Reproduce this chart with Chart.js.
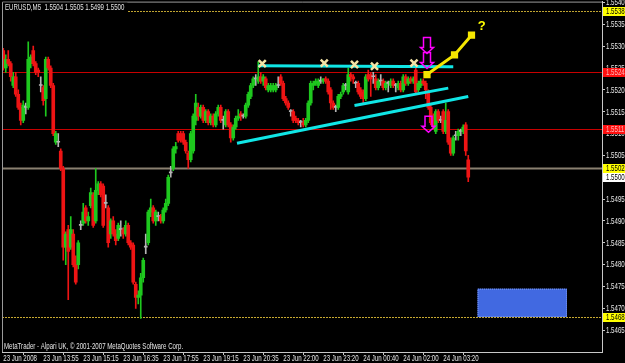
<!DOCTYPE html>
<html>
<head>
<meta charset="utf-8">
<script src="https://cdn.jsdelivr.net/npm/chart.js@4.4.1/dist/chart.umd.min.js"></script>
<style>
  html, body { margin: 0; padding: 0; background: #000; }
  canvas { display: block; }
</style>
</head>
<body>
<canvas id="chart" width="625" height="363"></canvas>
<script>
// EURUSD M5 bars, values in pips above 1.5400
const BASE = 1.54;
const PIP = 0.0001;

const opens = [
  129, 125, 127, 126, 121, 123, 119, 116, 113, 116,
  116, 126, 129, 126, 124.5, 121, 120.5, 118, 127, 125,
  121, 108, 108, 106, 102, 84, 88, 84, 87, 80,
  80, 89, 89.5, 93, 90, 93.5, 96, 90, 97, 98.5,
  98, 94, 93, 87, 90, 87, 86, 88, 88, 87,
  89, 85, 84.5, 75.5, 72.5, 73, 77, 84, 85, 92,
  93, 90, 91, 91, 90, 92.5, 94, 101, 102, 106.5,
  110, 110, 110, 108, 105.5, 104, 106, 113, 116, 114,
  116, 113, 115, 112.5, 114, 112, 114.5, 116, 113, 112,
  115, 112, 109, 111.5, 113.5, 114.5, 114, 114, 116.5, 118.5,
  121, 122.5, 122, 123, 122, 122.5, 120, 120, 120, 120,
  121, 123, 121.5, 118, 117, 115, 115, 113.5, 113, 112.5,
  112.5, 112, 113, 117, 121, 121.5, 121, 122, 122, 122.5,
  122, 120, 117, 116, 116, 118.5, 119.5, 121, 119.5, 123.5,
  123, 121.5, 121.5, 120, 119.5, 118, 123.5, 123.5, 123, 122.5,
  120.5, 122, 122, 120.5, 121.5, 121, 122, 121, 120.5, 121.5,
  120, 123, 121.5, 122.5, 122, 124.5, 120, 121, 122, 121.5,
  119.5, 116, 113, 110.5, 115, 113, 115, 110.5, 115, 108.5,
  105.5, 109.5, 109.5, 110.5, 110.5, 112, 104
];
const highs = [
  129.5, 128, 129, 126.5, 124, 124, 120, 117, 117.5, 117,
  131, 128, 130, 126.5, 125, 123, 121, 127.5, 127.5, 125.5,
  121.5, 110.5, 110, 106.5, 102.5, 87.5, 89, 91, 88, 82,
  85.5, 90, 94, 93.5, 92, 97.5, 96.5, 102, 99, 99,
  98.5, 96, 93.5, 90.5, 91, 88, 89.5, 90, 88.5, 90,
  89.5, 85.5, 85, 76, 74, 78, 81.5, 87, 92.5, 95,
  93.5, 92.5, 92, 91.5, 93, 95, 100.5, 102.5, 107, 108,
  110.5, 110.5, 110.5, 108.5, 106, 110.5, 114.5, 119, 117, 116.5,
  116.5, 115.5, 115.5, 114.5, 114.5, 115, 116.5, 116.5, 114, 115.5,
  115.5, 112.5, 112, 114, 115.5, 115, 114.5, 117, 119.5, 121.5,
  123, 123.5, 126.5, 124, 123.5, 123, 121.5, 121.5, 121.5, 121.5,
  123, 123.5, 122, 118.5, 117.5, 115.5, 115.5, 114, 113.5, 113,
  113.5, 113.5, 117.5, 122, 122, 122.5, 122.5, 123, 122.5, 123,
  122.5, 120.5, 117.5, 116.5, 119, 119.5, 121.5, 121.5, 125, 124,
  123.5, 122, 122, 120.5, 120, 123.5, 124.5, 124, 124, 123.5,
  122.5, 123.5, 122.5, 122, 122, 122.5, 122.5, 121.5, 122, 122,
  123.5, 123.5, 123, 123, 123, 125.5, 122, 122.5, 122.5, 122,
  120, 116.5, 114.5, 115.5, 115.5, 114, 115.5, 117, 115.5, 109,
  109.5, 110.5, 111, 111, 112, 112.5, 105
];
const lows = [
  124.5, 124, 125.5, 122, 120.5, 118.5, 115.5, 112, 112.5, 114.5,
  115.5, 125, 125.5, 123.5, 123, 119.5, 116.5, 114, 124.5, 120.5,
  109.5, 107.5, 107, 101.5, 81, 80, 72, 83.5, 79.5, 75.5,
  79, 88, 89, 89.5, 89, 93, 88.5, 89.5, 96, 95.5,
  88.5, 93, 84, 86, 86.5, 84.5, 85.5, 86.5, 86, 86.5,
  84.5, 83.5, 75.5, 70, 71, 67.7, 76, 82.5, 84.5, 91,
  89.5, 89, 90, 89.5, 89.5, 92, 93.5, 100, 101.5, 105.5,
  108, 108, 107.5, 105.5, 102, 103.5, 105.5, 112, 113, 113.5,
  112.5, 112.5, 112, 112, 111.5, 111.5, 114, 112.5, 111, 111.5,
  111.5, 108, 108.5, 111, 113, 113, 113.5, 113.5, 116, 118,
  120.5, 121, 121.5, 121.5, 121, 120, 119.5, 119.5, 119.5, 119.5,
  120.5, 121, 117.5, 116.5, 115.5, 114, 112.5, 112.5, 112, 111.5,
  111.5, 111.5, 112.5, 116.5, 120, 121, 120.5, 121.5, 121.5, 121.5,
  119, 115.5, 115.5, 115, 115.5, 118, 119, 120, 119, 122,
  121.5, 120.5, 119, 118, 117, 117.5, 122, 118.5, 121.5, 120,
  120, 121, 120, 120, 119.5, 120.5, 120.5, 119.5, 120, 119.5,
  119.5, 121, 121, 121.5, 121.5, 119, 119.5, 120.5, 121, 118,
  115.5, 112, 111, 110, 112.5, 112.5, 110, 110, 107.5, 105,
  105, 108.5, 108.5, 109.5, 110, 105, 99
];
const closes = [
  125, 127, 126, 123, 123, 119, 116, 113, 116.5, 116,
  127, 127.5, 126, 124, 124, 121, 117.5, 127, 125, 121,
  110, 110, 108, 102, 84, 87, 83, 88, 80, 76,
  85, 89, 92, 90, 91, 96.5, 89, 97, 98.5, 96,
  89, 94, 85, 90, 87, 85.5, 89, 88, 87, 89,
  85, 84, 76, 72.5, 73, 77, 81, 84, 92, 93,
  90, 92, 91, 90, 92.5, 94, 100, 101, 106.5, 107,
  108.5, 108.5, 108, 106, 104, 110, 114, 117, 114, 116,
  113, 115, 112.5, 114, 112, 114.5, 116, 113, 113, 115,
  112, 109, 111.5, 113.5, 114, 114, 114, 116.5, 119, 121,
  122.5, 122.5, 123, 122, 123, 120.5, 121, 121, 121, 121,
  121, 121.5, 118, 117, 116, 115, 113, 113, 112.5, 112.5,
  112, 113, 117, 121.5, 121.5, 122, 122, 122, 122.5, 122,
  119.5, 117, 116, 116, 118.5, 119, 121, 121, 123.5, 123,
  122.5, 121.5, 119.5, 118.5, 118, 123, 122.5, 122.5, 123, 120.5,
  122, 122, 120.5, 121.5, 121.5, 122, 121, 121, 121.5, 120,
  123, 121.5, 122.5, 122, 122.5, 119.5, 121.5, 122, 121.5, 120,
  116, 112.5, 111.5, 115, 113, 113, 110.5, 113, 108, 105.5,
  109, 109.5, 110.5, 110.5, 111.5, 106, 100
];

const SLOTS = 240; // bar slots across the window (incl. chart shift)
const timeTickIndex = [0, 16, 32, 48, 64, 80, 96, 112, 128, 144, 160, 176];
const timeTickLabels = [
  "23 Jun 2008", "23 Jun 13:55", "23 Jun 15:15", "23 Jun 16:35",
  "23 Jun 17:55", "23 Jun 19:15", "23 Jun 20:35", "23 Jun 22:00",
  "23 Jun 23:20", "24 Jun 00:40", "24 Jun 02:00", "24 Jun 03:20"
];
const priceTicks = [
  1.5465, 1.5470, 1.5475, 1.5480, 1.5485, 1.5490, 1.5495, 1.5500,
  1.5505, 1.5510, 1.5515, 1.5520, 1.5525, 1.5530, 1.5535, 1.5540
];

// horizontal levels
const levelPrices = [1.5538, 1.5524, 1.5511, 1.5502, 1.5468];
const levelLine = ["#c0a430", "#c80000", "#c80000", "#8a8070", "#c8aa30"];
const levelDash = [[2, 1], [], [], [], [2, 1]];
const levelTagBg = ["#ffff00", "#ff1010", "#ff1010", "#ffff00", "#ffff00"];
const levelTagFg = ["#000000", "#ffb8b8", "#ffb8b8", "#000000", "#000000"];

// drawn objects: [bar index, pips]
const topLine = [[102, 125.5], [180, 125.3]];
const midLine = [[140.5, 116.4], [178, 120.4]];
const lowLine = [[93.5, 107.8], [186, 118.5]];
const projection = [[169.5, 123.5], [180.5, 128], [187.3, 132.5]];
const crossMarks = [[103.6, 126], [128.4, 126.1], [140.5, 125.8], [148.5, 125.4], [164.3, 126.1]];
const downArrows = [[169.5, 128.3], [169.5, 124.9], [170.1, 110.3]];
const questionMark = [191.4, 134.5];
const zone = [189.7, 225.5, 1.54745, 1.5468];

const UP = "#1ec81e", DOWN = "#ee1414", FLAT = "#b4b4b4";
const FONT = "8.5px 'Liberation Sans', Arial, sans-serif";
const SQUEEZE = 0.72;

const px = (p) => BASE + p * PIP;
const fmt = (v) => v.toFixed(4);
const toPoints = (arr) => arr.map(([i, p]) => ({ x: i, y: px(p) }));

const candleColors = opens.map((o, i) =>
  closes[i] > o ? UP : closes[i] < o ? DOWN : FLAT
);
const wickData = opens.map((o, i) => ({ x: i, y: [px(lows[i]), px(highs[i])] }));
const bodyData = opens.map((o, i) => ({
  x: i,
  y: [px(Math.min(o, closes[i])), px(Math.max(o, closes[i]))],
}));

// small narrow terminal-like text
function narrowText(ctx, text, x, y, color) {
  ctx.save();
  ctx.font = FONT;
  ctx.fillStyle = color;
  ctx.textAlign = "left";
  ctx.textBaseline = "middle";
  ctx.translate(x, y);
  ctx.scale(SQUEEZE, 1);
  ctx.fillText(text, 0, 0);
  ctx.restore();
}

function drawDownArrow(ctx, cx, tipY) {
  ctx.beginPath();
  ctx.moveTo(cx - 3.5, tipY - 16);
  ctx.lineTo(cx + 3.5, tipY - 16);
  ctx.lineTo(cx + 3.5, tipY - 6);
  ctx.lineTo(cx + 6.5, tipY - 6);
  ctx.lineTo(cx, tipY);
  ctx.lineTo(cx - 6.5, tipY - 6);
  ctx.lineTo(cx - 3.5, tipY - 6);
  ctx.closePath();
  ctx.stroke();
}

const overlay = {
  id: "overlay",
  beforeDraw(chart) {
    const { ctx, width, height } = chart;
    ctx.save();
    ctx.fillStyle = "#000";
    ctx.fillRect(0, 0, width, height);
    ctx.restore();
  },
  beforeDatasetsDraw(chart) {
    const { ctx, chartArea: a, scales } = chart;
    ctx.save();
    levelPrices.forEach((p, k) => {
      const y = Math.round(scales.y.getPixelForValue(p)) + 0.5;
      ctx.strokeStyle = levelLine[k];
      ctx.lineWidth = k === 3 ? 2 : 1;
      ctx.setLineDash(levelDash[k]);
      ctx.beginPath();
      ctx.moveTo(a.left, y);
      ctx.lineTo(a.right, y);
      ctx.stroke();
    });
    ctx.restore();
  },
  afterDraw(chart) {
    const { ctx, chartArea: a, scales } = chart;
    const sx = scales.x, sy = scales.y;
    ctx.save();

    // frame
    ctx.strokeStyle = "#9a9a9a";
    ctx.lineWidth = 1;
    ctx.beginPath();
    ctx.moveTo(a.left + 0.5, a.bottom);
    ctx.lineTo(a.left + 0.5, a.top + 0.5);
    ctx.lineTo(a.right, a.top + 0.5);
    ctx.stroke();

    // blue zone
    const zx1 = sx.getPixelForValue(zone[0]), zx2 = sx.getPixelForValue(zone[1]);
    const zy1 = sy.getPixelForValue(zone[2]), zy2 = sy.getPixelForValue(zone[3]);
    ctx.fillStyle = "#4169e1";
    ctx.fillRect(zx1, zy1, zx2 - zx1, zy2 - zy1);
    ctx.strokeStyle = "#7d9af0";
    ctx.setLineDash([1, 1]);
    ctx.strokeRect(zx1 + 0.5, zy1 + 0.5, zx2 - zx1 - 1, zy2 - zy1 - 1);
    ctx.setLineDash([]);

    // arrows
    ctx.strokeStyle = "#ff00ff";
    ctx.lineWidth = 1.5;
    downArrows.forEach(([i, p]) => {
      drawDownArrow(ctx, sx.getPixelForValue(i), sy.getPixelForValue(px(p)));
    });

    // question mark
    ctx.fillStyle = "#ffff00";
    ctx.font = "bold 13px 'Liberation Sans', sans-serif";
    ctx.textAlign = "center";
    ctx.textBaseline = "middle";
    ctx.fillText("?", sx.getPixelForValue(questionMark[0]), sy.getPixelForValue(px(questionMark[1])));
    ctx.restore();

    // header with black backing over the level line
    const last = opens.length - 1;
    const header = "EURUSD,M5  " + [opens[last], highs[last], lows[last], closes[last]]
      .map((v) => fmt(px(v))).join(" ");
    ctx.save();
    ctx.font = FONT;
    const hw = ctx.measureText(header).width * SQUEEZE;
    ctx.fillStyle = "#000";
    ctx.fillRect(a.left + 1, a.top + 1, hw + 5, 10);
    ctx.restore();
    narrowText(ctx, header, a.left + 3, a.top + 6, "#e4e4e4");

    // footer
    narrowText(ctx, "MetaTrader - Alpari UK, \u00a9 2001-2007 MetaQuotes Software Corp.",
      a.left + 2, a.bottom - 5, "#e4e4e4");

    // time labels
    timeTickIndex.forEach((v, k) => {
      narrowText(ctx, timeTickLabels[k], sx.getPixelForValue(v), a.bottom + 7, "#e4e4e4");
    });

    // price labels
    priceTicks.forEach((v) => {
      narrowText(ctx, fmt(v), a.right + 4, sy.getPixelForValue(v) + 0.5, "#e4e4e4");
    });

    // price tags on the right axis
    const tag = (price, bg, fg) => {
      const y = Math.round(sy.getPixelForValue(price));
      ctx.save();
      ctx.fillStyle = bg;
      ctx.fillRect(a.right + 1, y - 4, chart.width - a.right - 1, 9);
      ctx.restore();
      narrowText(ctx, fmt(price), a.right + 4, y + 0.5, fg);
    };
    levelPrices.forEach((p, k) => tag(p, levelTagBg[k], levelTagFg[k]));
    tag(px(closes[last]), "#ffffff", "#000000");
  },
};

new Chart(document.getElementById("chart"), {
  type: "bar",
  data: {
    datasets: [
      {
        type: "line",
        data: toPoints(crossMarks),
        showLine: false,
        pointStyle: "crossRot",
        pointRadius: 5,
        borderWidth: 2.5,
        borderColor: "#f3e3a5",
        order: 0,
      },
      {
        type: "line",
        data: toPoints(projection),
        borderColor: "#f5e600",
        borderWidth: 3,
        pointStyle: "rect",
        pointRadius: 3,
        pointBackgroundColor: "#f5e600",
        pointBorderColor: "#f5e600",
        order: 0,
      },
      ...[topLine, midLine, lowLine].map((l) => ({
        type: "line",
        data: toPoints(l),
        borderColor: "#10e6e6",
        borderWidth: 3,
        pointRadius: 0,
        order: 1,
      })),
      {
        data: bodyData,
        backgroundColor: candleColors,
        barThickness: 3,
        minBarLength: 1,
        grouped: false,
        order: 2,
      },
      {
        data: wickData,
        backgroundColor: candleColors,
        barThickness: 1,
        grouped: false,
        order: 3,
      },
    ],
  },
  options: {
    responsive: false,
    animation: false,
    devicePixelRatio: 1,
    layout: { autoPadding: false, padding: { left: 2, top: 1, right: 0, bottom: 0 } },
    plugins: { legend: { display: false }, tooltip: { enabled: false } },
    scales: {
      x: {
        type: "linear",
        min: -0.5,
        max: SLOTS - 0.5,
        offset: false,
        afterBuildTicks: (scale) => {
          scale.ticks = timeTickIndex.map((v) => ({ value: v }));
        },
        afterFit: (scale) => {
          scale.height = 11;
        },
        ticks: {
          autoSkip: false,
          maxRotation: 0,
          padding: 0,
          color: "rgba(0,0,0,0)",
          font: { size: 1 },
          callback: () => "",
        },
        grid: { drawOnChartArea: false, drawTicks: true, tickLength: 3, color: "#c8c8c8" },
        border: { display: true, color: "#c8c8c8" },
      },
      y: {
        position: "right",
        min: 1.546,
        max: 1.55402,
        afterBuildTicks: (scale) => {
          scale.ticks = priceTicks.map((v) => ({ value: v }));
        },
        afterFit: (scale) => {
          scale.width = 23;
        },
        ticks: {
          padding: 1,
          color: "rgba(0,0,0,0)",
          font: { size: 1 },
          callback: () => "",
        },
        grid: { drawOnChartArea: false, drawTicks: true, tickLength: 3, color: "#c8c8c8" },
        border: { display: true, color: "#c8c8c8" },
      },
    },
  },
  plugins: [overlay],
});
</script>
</body>
</html>
